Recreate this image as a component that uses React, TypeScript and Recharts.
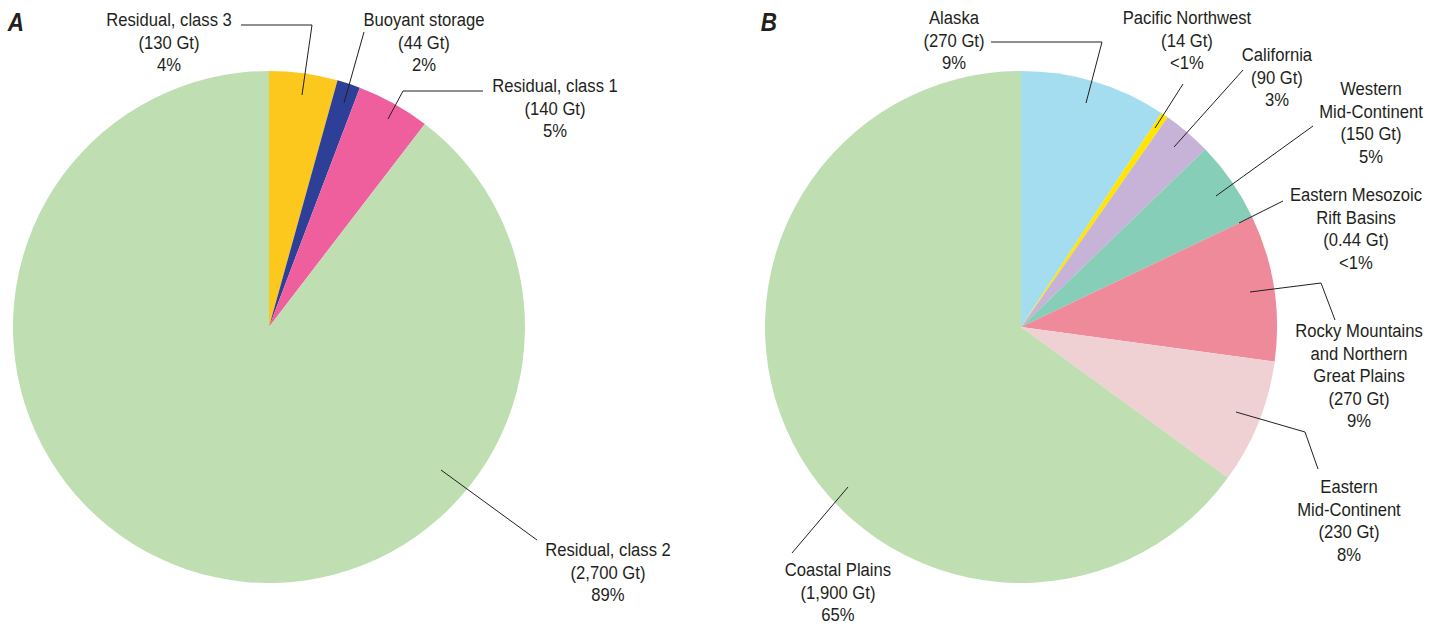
import React from "react";
import { PieChart, Pie, Cell } from "recharts";

// ---- Data ----
const aNames = ["Residual, class 3", "Buoyant storage", "Residual, class 1", "Residual, class 2"];
const aValues = [130, 44, 140, 2700];
const aPercents = ["4%", "2%", "5%", "89%"];

const bNames = [
  "Alaska",
  "Pacific Northwest",
  "California",
  "Western\nMid-Continent",
  "Eastern Mesozoic\nRift Basins",
  "Rocky Mountains\nand Northern\nGreat Plains",
  "Eastern\nMid-Continent",
  "Coastal Plains",
];
const bValues = [270, 14, 90, 150, 0.44, 270, 230, 1900];
const bPercents = ["9%", "<1%", "3%", "5%", "<1%", "9%", "8%", "65%"];

const panelLetters = ["A", "B"];

// ---- Styles ----
const aColors = ["#FDC81E", "#2E3F98", "#EF5F9D", "#BFDEB2"];
const bColors = ["#A5DDF0", "#FFE500", "#C6B3D7", "#86CEB7", "#8A7FB0", "#EF8A9B", "#EFD1D3", "#BFDEB2"];

const FONT = '"Liberation Sans", Arial, sans-serif';
const TEXT_COLOR = "#231F20";
const LINE_H = 22.5;
const FONT_SIZE = 18.5;
const X_SCALE = 0.9;

// label layout, offsets relative to pie center: [textX, firstLineY], leader polyline
type LabelLayout = { tx: number; ty: number; pts: [number, number][] };
const aLayout: LabelLayout[] = [
  { tx: -100, ty: -307, pts: [[33, -232], [43, -302], [-28, -302]] },
  { tx: 155, ty: -307, pts: [[75, -224], [95, -295]] },
  { tx: 286, ty: -241, pts: [[119, -208], [134, -236], [214, -236]] },
  { tx: 339, ty: 223, pts: [[172, 143], [268, 213]] },
];
const bLayout: LabelLayout[] = [
  { tx: -67, ty: -309, pts: [[65, -224], [81, -285], [-30, -285]] },
  { tx: 166, ty: -309, pts: [[134, -199], [162, -243]] },
  { tx: 256, ty: -272, pts: [[153, -180], [222, -257]] },
  { tx: 350, ty: -238, pts: [[195, -131], [292, -201]] },
  { tx: 335, ty: -132, pts: [[218, -104], [262, -126]] },
  { tx: 338, ty: 4, pts: [[229, -35], [300, -44], [314, -7]] },
  { tx: 328, ty: 160, pts: [[215, 85], [284, 105], [297, 142]] },
  { tx: -183, ty: 243, pts: [[-173, 160], [-229, 226]] },
];

const aData = aNames.map((name, i) => ({ name, value: aValues[i], pct: aPercents[i] }));
const bData = bNames.map((name, i) => ({ name, value: bValues[i], pct: bPercents[i] }));

const makeLabel = (layout: LabelLayout[], data: { name: string; value: number; pct: string }[]) =>
  (props: any) => {
    const { cx, cy, index } = props;
    const lay = layout[index];
    const d = data[index];
    if (!lay || !d) return null;
    const lines = [...d.name.split("\n"), `(${d.value.toLocaleString("en-US")} Gt)`, d.pct];
    const pts = lay.pts.map(([x, y]) => `${cx + x},${cy + y}`).join(" ");
    const x = cx + lay.tx;
    return (
      <g key={`lbl-${index}`}>
        <polyline points={pts} fill="none" stroke={TEXT_COLOR} strokeWidth={1} />
        <text
          x={x}
          y={cy + lay.ty + 6.5}
          textAnchor="middle"
          fontFamily={FONT}
          fontSize={FONT_SIZE}
          fill={TEXT_COLOR}
          transform={`translate(${x},0) scale(${X_SCALE},1) translate(${-x},0)`}
        >
          {lines.map((ln, k) => (
            <tspan key={k} x={x} dy={k === 0 ? 0 : LINE_H}>
              {ln}
            </tspan>
          ))}
        </text>
      </g>
    );
  };

const CX_A = 269;
const CX_B = 1021;
const CY = 327;
const R = 256;

const PanelLetter = ({ x, label }: { x: number; label: string }) => (
  <text
    x={x}
    y={31}
    textAnchor="middle"
    fontFamily={FONT}
    fontSize={25}
    fontWeight="bold"
    fontStyle="italic"
    fill={TEXT_COLOR}
    transform={`translate(${x},0) scale(0.9,1) translate(${-x},0)`}
  >
    {label}
  </text>
);

export default function App() {
  return (
    <div style={{ width: 1440, height: 626, background: "#fff" }}>
      <style>{`body{margin:0;}`}</style>
      <PieChart width={1440} height={626} margin={{ top: 0, right: 0, bottom: 0, left: 0 }}>
        <Pie
          data={aData}
          dataKey="value"
          nameKey="name"
          cx={CX_A}
          cy={CY}
          outerRadius={R}
          startAngle={90}
          endAngle={-270}
          stroke="none"
          isAnimationActive={false}
          labelLine={false}
          label={makeLabel(aLayout, aData)}
        >
          {aData.map((_, i) => (
            <Cell key={i} fill={aColors[i]} stroke="none" />
          ))}
        </Pie>
        <Pie
          data={bData}
          dataKey="value"
          nameKey="name"
          cx={CX_B}
          cy={CY}
          outerRadius={R}
          startAngle={90}
          endAngle={-270}
          stroke="none"
          isAnimationActive={false}
          labelLine={false}
          label={makeLabel(bLayout, bData)}
        >
          {bData.map((_, i) => (
            <Cell key={i} fill={bColors[i]} stroke="none" />
          ))}
        </Pie>
        <PanelLetter x={16} label={panelLetters[0]} />
        <PanelLetter x={769} label={panelLetters[1]} />
      </PieChart>
    </div>
  );
}
